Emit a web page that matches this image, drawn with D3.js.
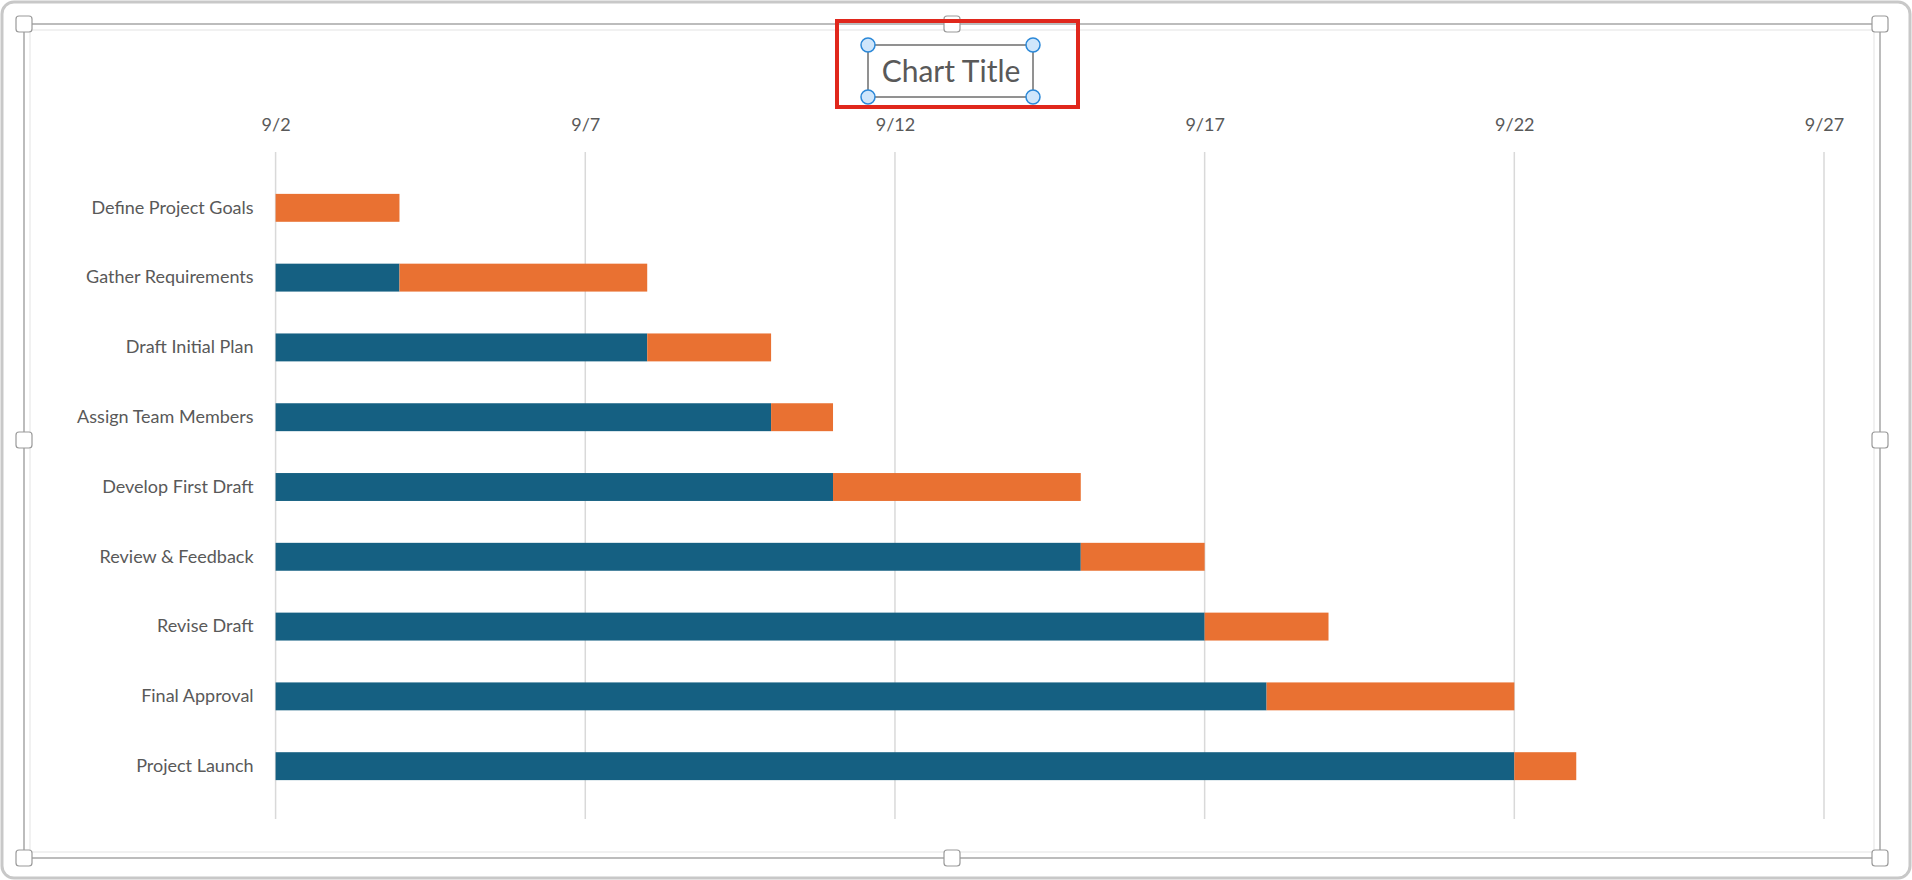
<!DOCTYPE html>
<html>
<head>
<meta charset="utf-8">
<script src="https://cdn.jsdelivr.net/npm/d3@7"></script>
<style>
  body { margin: 0; background: #fff; }
  svg { display: block; font-family: "Lato", "Open Sans", sans-serif; }
</style>
</head>
<body>
<svg id="chart" width="1912" height="880"></svg>
<script>
// gantt data: start offset (days from 9/2) and duration (days)
var tasks = ["Define Project Goals", "Gather Requirements", "Draft Initial Plan", "Assign Team Members",
  "Develop First Draft", "Review & Feedback", "Revise Draft", "Final Approval", "Project Launch"];
var startDays = [0, 2, 6, 8, 9, 13, 15, 16, 20];
var durations = [2, 4, 2, 1, 4, 2, 2, 4, 1];
var tickDays = [0, 5, 10, 15, 20, 25];

var base = new Date(2024, 8, 2);
function day(n) { return d3.timeDay.offset(base, n); }

var svg = d3.select("#chart");

// frame
svg.append("rect").attr("x", 2).attr("y", 2).attr("width", 1908).attr("height", 876)
  .attr("rx", 12).attr("fill", "#fff").attr("stroke", "#c8c8c8").attr("stroke-width", 3);
svg.append("rect").attr("x", 24).attr("y", 24).attr("width", 1856).attr("height", 834)
  .attr("fill", "none").attr("stroke", "#a6a6a6").attr("stroke-width", 1.5);
svg.append("rect").attr("x", 30).attr("y", 30).attr("width", 1844).attr("height", 822)
  .attr("fill", "none").attr("stroke", "#e3e3e3").attr("stroke-width", 1);
var handles = [[24, 24], [952, 24], [1880, 24], [24, 440], [1880, 440], [24, 858], [952, 858], [1880, 858]];
svg.selectAll(".handle").data(handles).join("rect").attr("class", "handle")
  .attr("x", d => d[0] - 8).attr("y", d => d[1] - 8).attr("width", 16).attr("height", 16).attr("rx", 3)
  .attr("fill", "#fff").attr("stroke", "#9a9a9a").attr("stroke-width", 1.2);

var x = d3.scaleTime().domain([day(0), day(25)]).range([275.6, 1824]);
var y = d3.scaleBand().domain(tasks).range([152, 822]).padding(0.6);

// gridlines
svg.selectAll(".grid").data(tickDays).join("line").attr("class", "grid")
  .attr("x1", d => x(day(d))).attr("x2", d => x(day(d)))
  .attr("y1", 152).attr("y2", 819).attr("stroke", "#d9d9d9").attr("stroke-width", 1.5);

// top axis labels
var xAxis = d3.axisTop(x).tickValues(tickDays.map(day)).tickFormat(d3.timeFormat("%-m/%-d")).tickSize(0);
var gx = svg.append("g").attr("transform", "translate(0,134)").call(xAxis);
gx.select(".domain").remove();
gx.selectAll("text").attr("font-size", 18).attr("fill", "#595959").attr("font-family", "Lato, sans-serif");

// category labels
var yAxis = d3.axisLeft(y).tickSize(0).tickPadding(22);
var gy = svg.append("g").attr("transform", "translate(275.6,0)").call(yAxis);
gy.select(".domain").remove();
gy.selectAll("text").attr("font-size", 18).attr("fill", "#595959").attr("font-family", "Lato, sans-serif");

// invisible start series in blue, duration series in orange
svg.selectAll(".start").data(tasks).join("rect").attr("class", "start")
  .attr("x", x(day(0))).attr("y", d => y(d))
  .attr("width", (d, i) => x(day(startDays[i])) - x(day(0)))
  .attr("height", y.bandwidth()).attr("fill", "#156082");
svg.selectAll(".dur").data(tasks).join("rect").attr("class", "dur")
  .attr("x", (d, i) => x(day(startDays[i]))).attr("y", d => y(d))
  .attr("width", (d, i) => x(day(startDays[i] + durations[i])) - x(day(startDays[i])))
  .attr("height", y.bandwidth()).attr("fill", "#E97132");

// title with selection boxes
svg.append("rect").attr("x", 837).attr("y", 21).attr("width", 241).attr("height", 86)
  .attr("fill", "none").attr("stroke", "#e0271c").attr("stroke-width", 4);
svg.append("rect").attr("x", 868).attr("y", 45).attr("width", 165).attr("height", 52)
  .attr("fill", "none").attr("stroke", "#6e6e6e").attr("stroke-width", 1.5);
svg.append("text").attr("x", 951).attr("y", 82).attr("text-anchor", "middle")
  .attr("font-size", 30).attr("fill", "#595959").attr("font-family", "Lato, sans-serif").text("Chart Title");
var corners = [[868, 45], [1033, 45], [868, 97], [1033, 97]];
svg.selectAll(".corner").data(corners).join("circle").attr("class", "corner")
  .attr("cx", d => d[0]).attr("cy", d => d[1]).attr("r", 7)
  .attr("fill", "#cfe6fb").attr("stroke", "#2b88d8").attr("stroke-width", 1.5);
</script>
</body>
</html>
